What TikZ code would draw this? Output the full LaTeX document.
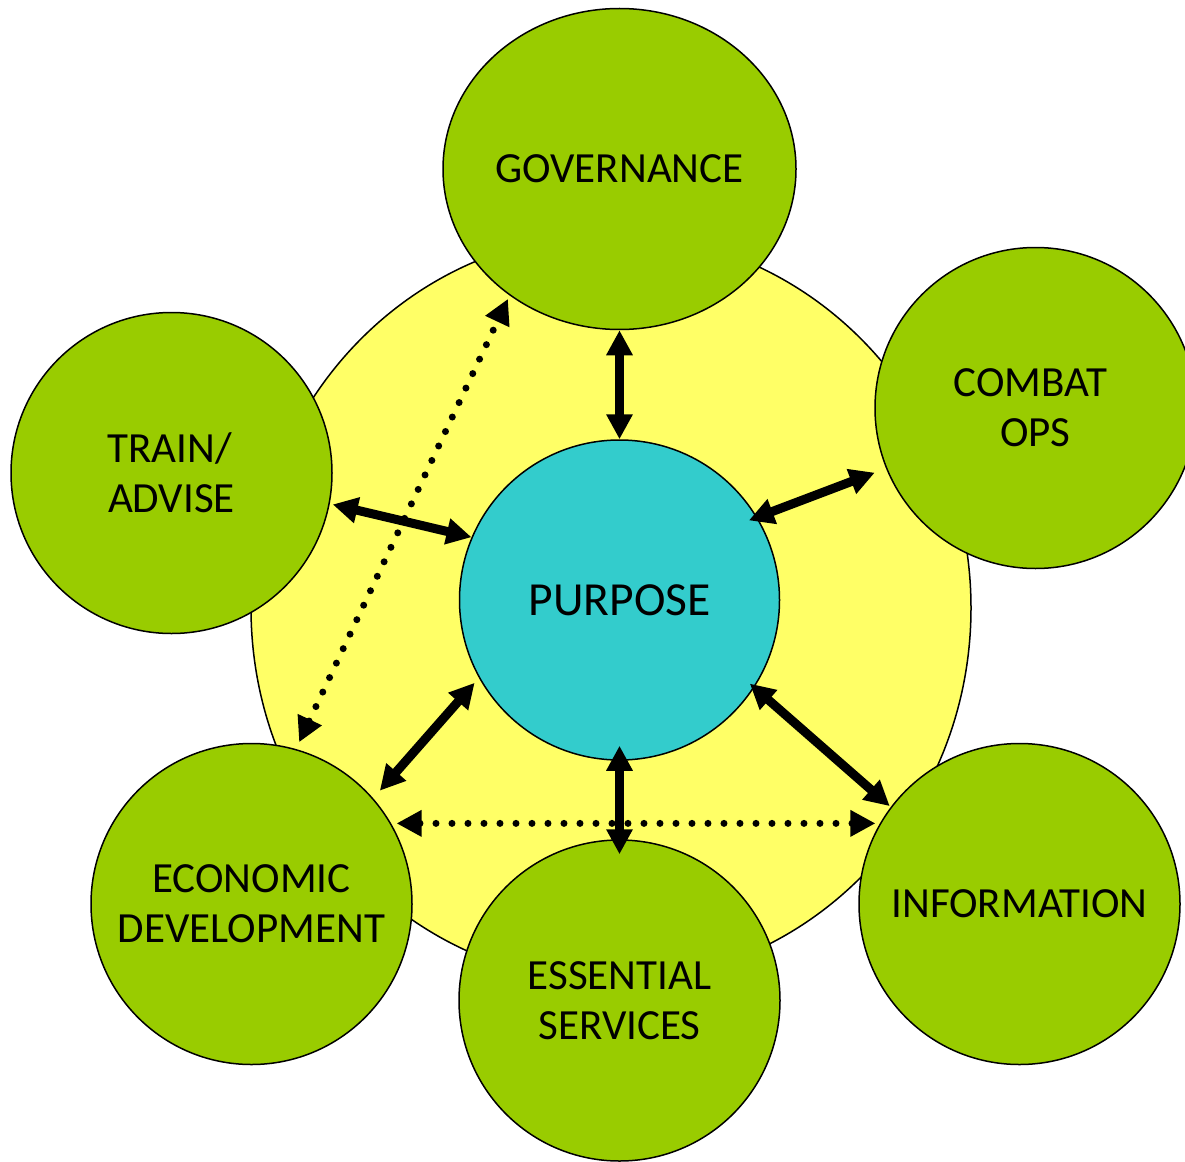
\documentclass[tikz,border=0pt]{standalone}
\usepackage{fontspec}
\setmainfont{Carlito}
\usetikzlibrary{arrows.meta,shapes.geometric}
\definecolor{bubgreen}{HTML}{99CC00}
\definecolor{bgyellow}{HTML}{FFFF66}
\definecolor{purposecyan}{HTML}{33CCCC}
\begin{document}
\begin{tikzpicture}[x=1pt,y=-1pt,
  bubble/.style={circle,draw=black,line width=1.5pt,fill=bubgreen,minimum size=321pt,inner sep=0pt,align=center,font=\fontsize{43}{50}\selectfont},
  govbubble/.style={ellipse,draw=black,line width=1.5pt,fill=bubgreen,minimum width=353pt,minimum height=321pt,inner sep=0pt,align=center,font=\fontsize{43}{50}\selectfont},
  centerbubble/.style={circle,draw=black,line width=1.5pt,fill=purposecyan,minimum size=320pt,inner sep=0pt,align=center,font=\fontsize{47.5}{54}\selectfont},
  field/.style={ellipse,draw=black,line width=1.5pt,fill=bgyellow,minimum width=720pt,minimum height=748pt,inner sep=0pt},
  tip/.tip={Triangle[length=25pt,width=25pt]},
  link/.style={line width=9pt,black,{tip}-{tip}},
  dotlink/.style={line width=7pt,black,line cap=round,dash pattern=on 0pt off 16pt,{tip}-{tip}}
]
\useasboundingbox (0,0) rectangle (1185,1161);
\clip (0,0) rectangle (1185,1161);
\node[field] (area) at (611,608) {};
\node[govbubble] (gov) at (619.5,169) {GOVERNANCE};
\node[bubble] (combat) at (1035.5,408) {COMBAT\kern10pt\\OPS};
\node[bubble] (train) at (171.5,473) {TRAIN/\kern4pt\\ADVISE};
\node[bubble] (econ) at (251.5,904) {ECONOMIC\\DEVELOPMENT};
\node[bubble] (ess) at (619.5,1000.5) {ESSENTIAL\\SERVICES};
\node[bubble] (info) at (1019.5,904) {INFORMATION};
\node[centerbubble] (purpose) at (619.5,600) {PURPOSE};

\draw[link] (gov.south) -- (purpose.north);
\draw[link, shorten <=-9pt, shorten >=12pt] (purpose.31) -- (combat.202);
\draw[link, shorten <=3pt] (train.349) -- (purpose.157);
\draw[link, shorten <=10pt, shorten >=6.5pt] (econ.41) -- (purpose.209);
\draw[link, shorten <=-15pt, shorten >=-15pt] (purpose.south) -- (ess.north);
\draw[link, shorten <=-6pt, shorten >=1.3pt] (purpose.327.5) -- (info.143);
\draw[dotlink, shorten <=7.5pt, shorten >=3.8pt] (econ.74) -- (gov.229);
\draw[dotlink, shorten <=5.4pt, shorten >=4.4pt] (econ.30) -- (info.150);
\end{tikzpicture}
\end{document}
